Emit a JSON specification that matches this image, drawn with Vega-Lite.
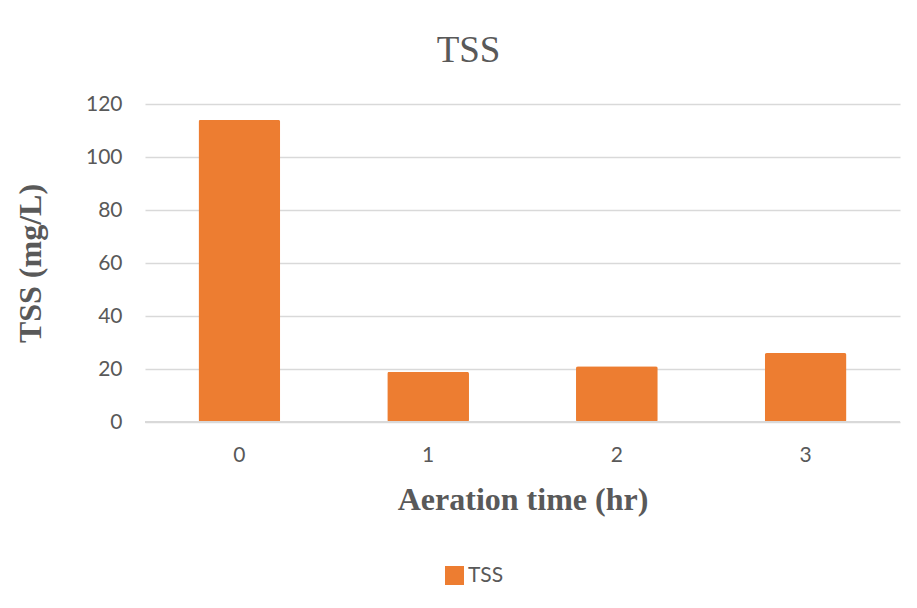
{
  "$schema": "https://vega.github.io/schema/vega-lite/v6.json",
  "width": 755,
  "height": 318,
  "autosize": {"type": "none"},
  "padding": {"left": 145, "top": 104, "right": 17, "bottom": 186},
  "background": "white",
  "config": {"view": {"stroke": null}, "font": "Lato"},
  "title": {
    "text": "TSS",
    "font": "Liberation Serif",
    "fontSize": 37,
    "fontWeight": "normal",
    "color": "#595959",
    "anchor": "middle",
    "dx": -54,
    "offset": 23
  },
  "data": {
    "values": [
      {"hour": "0", "tss": 114, "series": "TSS"},
      {"hour": "1", "tss": 19, "series": "TSS"},
      {"hour": "2", "tss": 21, "series": "TSS"},
      {"hour": "3", "tss": 26, "series": "TSS"}
    ]
  },
  "layer": [
    {
      "mark": {"type": "bar", "cornerRadius": 2, "y2Offset": 2},
      "encoding": {
        "x": {
          "field": "hour",
          "type": "ordinal",
          "scale": {"paddingInner": 0.567, "paddingOuter": 0.2835},
          "axis": {
            "labelAngle": 0,
            "domain": false,
            "ticks": false,
            "labelFont": "Lato",
            "labelFontSize": 21,
            "labelColor": "#595959",
            "labelPadding": 22,
            "title": "Aeration time (hr)",
            "titleFont": "Liberation Serif",
            "titleFontSize": 32,
            "titleFontWeight": "bold",
            "titleColor": "#595959",
            "titlePadding": 19
          }
        },
        "y": {
          "field": "tss",
          "type": "quantitative",
          "scale": {"domain": [0, 120]},
          "axis": {
            "values": [0, 20, 40, 60, 80, 100, 120],
            "grid": true,
            "gridColor": "#d9d9d9",
            "gridWidth": 1.5,
            "domain": false,
            "ticks": false,
            "labelFont": "Lato",
            "labelFontSize": 21,
            "labelColor": "#595959",
            "labelPadding": 23,
            "title": "TSS (mg/L)",
            "titleFont": "Liberation Serif",
            "titleFontSize": 32,
            "titleFontWeight": "bold",
            "titleColor": "#595959",
            "titlePadding": 38
          }
        },
        "color": {
          "field": "series",
          "type": "nominal",
          "scale": {"range": ["#ED7D31"]},
          "legend": {
            "orient": "none",
            "legendX": 299,
            "legendY": 461,
            "title": null,
            "padding": 0,
            "symbolType": "square",
            "symbolSize": 361,
            "symbolStrokeWidth": 0,
            "symbolOpacity": 1,
            "labelFont": "Lato",
            "labelFontSize": 21,
            "labelColor": "#595959",
            "labelOffset": 3
          }
        }
      }
    },
    {
      "mark": {"type": "rule", "color": "#d9d9d9", "strokeWidth": 1.5},
      "encoding": {"y": {"datum": 0}}
    }
  ]
}
